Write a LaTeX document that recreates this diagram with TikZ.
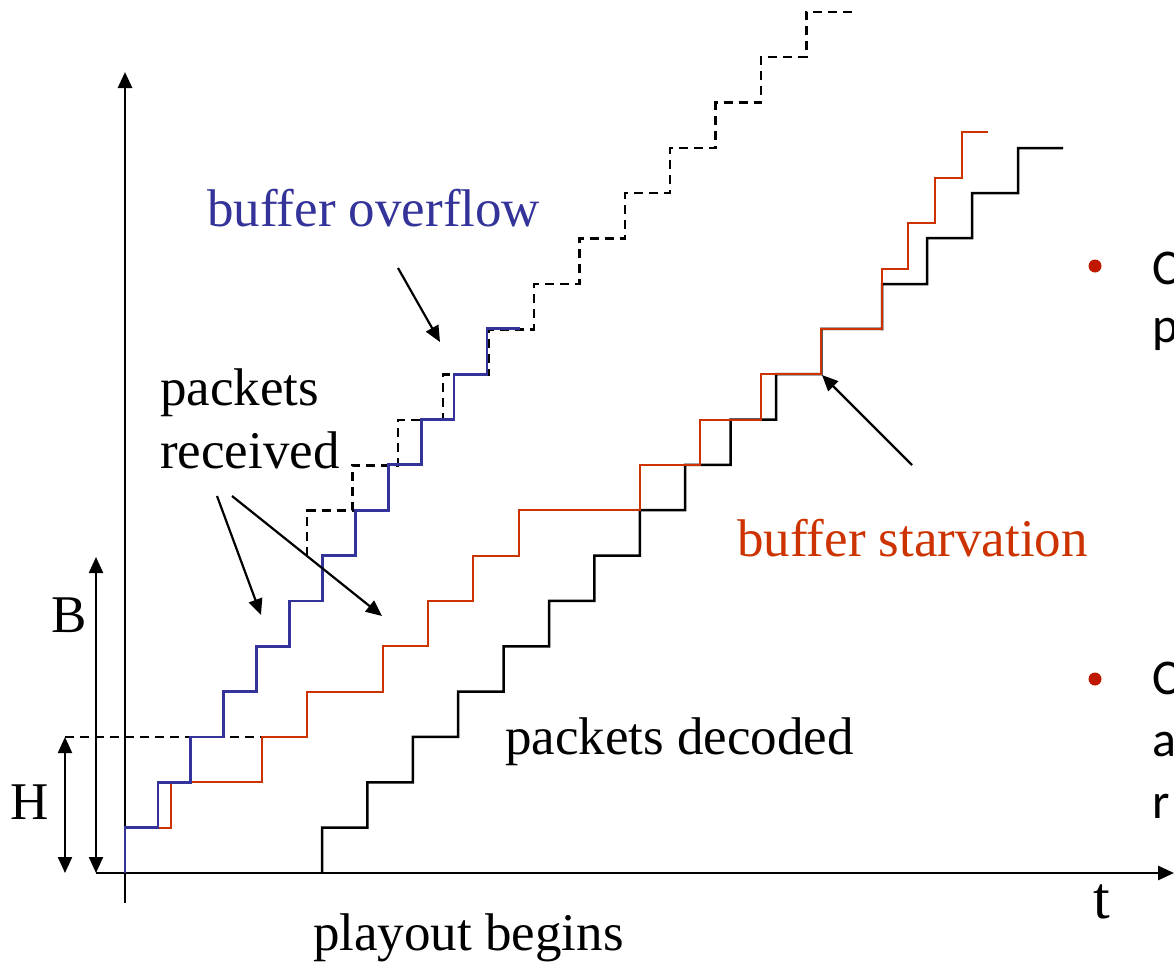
\documentclass[tikz,border=0pt]{standalone}
\usepackage{fontspec}
\setmainfont{Liberation Serif}
\newfontfamily\bulletfont{Carlito}
\usetikzlibrary{arrows.meta}

\definecolor{ovblue}{RGB}{51,51,153}
\definecolor{stred}{RGB}{204,51,0}
\definecolor{dotred}{RGB}{192,24,0}

\begin{document}
\begin{tikzpicture}[x=1pt, y=-1pt, >={Triangle[length=16pt,width=14pt]},
        lbl/.style={inner sep=0pt, anchor=base west, font=\fontsize{53}{62}\selectfont},
        side/.style={inner sep=0pt, anchor=base west, font=\bulletfont\fontsize{50}{60}\selectfont},
        stair/.style={line width=2.5pt},
        pointer/.style={->, line width=2.2pt}]

        \useasboundingbox (0,0) rectangle (1174,961);

        % coordinates
        \coordinate (o) at (125,873);
        \coordinate (ytop) at (125,72);
        \coordinate (ybot) at (125,903);
        \coordinate (xleft) at (96,873);
        \coordinate (xright) at (1174,873);
        \coordinate (btop) at (96,557);
        \coordinate (hbot) at (65,873);
        \coordinate (htop) at (65,737);
        \coordinate (hend) at (292,737);

        % axes
        \draw[->, line width=2.8pt] (ybot) -- (ytop);
        \draw[->, line width=2.8pt] (xleft) -- (xright);

        % B and H
        \draw[<->, line width=2.2pt] (xleft) -- (btop);
        \draw[<->, line width=2.2pt] (hbot) -- (htop);
        \draw[dashed, dash pattern=on 9pt off 6pt, line width=2.2pt] (htop) -- (hend);

        % packets decoded
        \draw[stair] (322,873) foreach \k in {0,...,11} {
                -- ({322+45.4*\k},{873-45.35*(\k+1)}) -- ({322+45.4*(\k+1)},{873-45.35*(\k+1)})}
            -- (882,329) -- (882,284) -- (927,284) -- (927,238) -- (972,238)
            -- (972,193) -- (1018,193) -- (1018,148) -- (1063,148);

        % packets received, starvation case
        \draw[stair, stred] (125,873) -- (125,828) -- (171,828) -- (171,782) -- (262,782)
            -- (262,737) -- (307,737) -- (307,692) -- (383,692) -- (383,646) -- (428,646)
            -- (428,601) -- (473,601) -- (473,556) -- (519,556) -- (519,510) -- (640,510)
            -- (640,465) -- (700,465) -- (700,420) -- (761,420) -- (761,374) -- (821,374)
            -- (821,329) -- (882,329) -- (882,269) -- (908,269) -- (908,223) -- (935,223)
            -- (935,178) -- (962,178) -- (962,132) -- (988,132);

        % packets sent beyond the buffer
        \draw[stair, dashed, dash pattern=on 9pt off 6pt] (307,556) foreach \k in {0,...,11} {
                -- ({307+45.4*\k},{556-45.35*(\k+1)}) -- ({307+45.4*(\k+1)},{556-45.35*(\k+1)})};

        % packets received, overflow case
        \draw[stair, ovblue, line width=2.8pt] (125,873) foreach \k in {0,...,11} {
                -- ({125+32.9*\k},{873-45.35*(\k+1)}) -- ({125+32.9*(\k+1)},{873-45.35*(\k+1)})};

        % labels
        \node[lbl, ovblue] (overflow) at (207,226) {buffer overflow};
        \node[lbl] (pkts) at (160,405) {packets};
        \node[lbl] (rcvd) at (160,468) {received};
        \node[lbl, stred] (starve) at (737,556) {buffer starvation};
        \node[lbl] (decoded) at (505,754) {packets decoded};
        \node[lbl] (playout) at (313,950) {playout begins};
        \node[lbl] (blabel) at (51,632) {B};
        \node[lbl] (hlabel) at (10,819) {H};
        \node[lbl, font=\fontsize{60}{70}\selectfont] (tlabel) at (1093,918) {t};

        % pointers
        \coordinate (ovtail) at (398,268);
        \coordinate (ovhead) at (440,342);
        \coordinate (rtail1) at (217,496);
        \coordinate (rhead1) at (261,615);
        \coordinate (rtail2) at (232,496);
        \coordinate (rhead2) at (382,616);
        \coordinate (sttail) at (912,465);
        \coordinate (sthead) at (822,375);
        \draw[pointer] (ovtail) -- (ovhead);
        \draw[pointer] (rtail1) -- (rhead1);
        \draw[pointer] (rtail2) -- (rhead2);
        \draw[pointer] (sttail) -- (sthead);

        % bullets at the right edge
        \fill[dotred] (1095,266) circle (6.5pt);
        \fill[dotred] (1095,679) circle (6.5pt);
        \node[side] (c1) at (1152,284) {C};
        \node[side] (p1) at (1152,342) {p};
        \node[side] (c2) at (1152,694) {C};
        \node[side] (a2) at (1152,756) {a};
        \node[side] (r2) at (1152,818) {r};

\end{tikzpicture}
\end{document}
